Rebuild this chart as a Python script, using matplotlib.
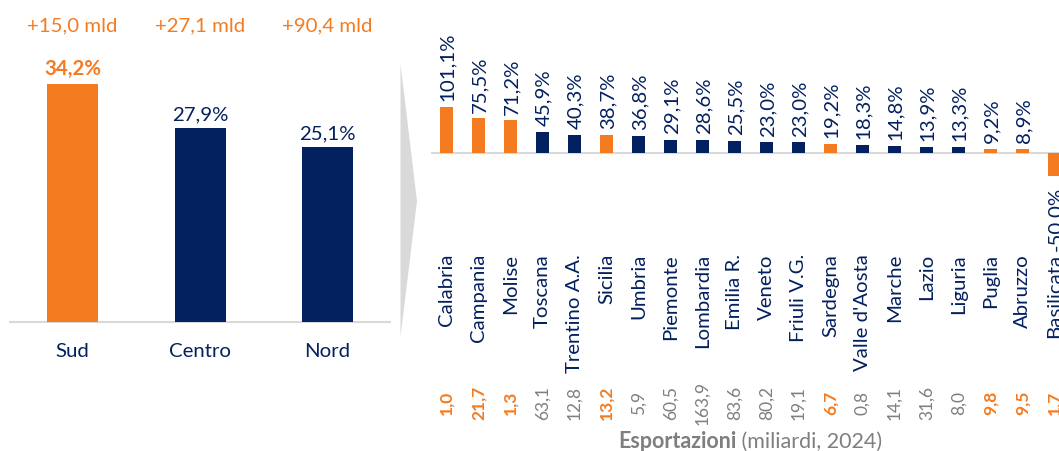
import matplotlib
matplotlib.use("Agg")
import matplotlib.pyplot as plt
from matplotlib.patches import Polygon
from matplotlib.transforms import blended_transform_factory

plt.rcParams["font.family"] = ["Lato", "DejaVu Sans"]

ORANGE = "#F47B20"
NAVY = "#03205F"
GREY = "#7F7F7F"
LINE = "#D9D9D9"

# Macro areas
areas = ["Sud", "Centro", "Nord"]
area_growth = [34.2, 27.9, 25.1]
area_delta = ["+15,0 mld", "+27,1 mld", "+90,4 mld"]
area_south = [True, False, False]

# Regions
regions = ["Calabria", "Campania", "Molise", "Toscana", "Trentino A.A.", "Sicilia",
           "Umbria", "Piemonte", "Lombardia", "Emilia R.", "Veneto", "Friuli V.G.",
           "Sardegna", "Valle d'Aosta", "Marche", "Lazio", "Liguria", "Puglia",
           "Abruzzo", "Basilicata"]
growth = [101.1, 75.5, 71.2, 45.9, 40.3, 38.7, 36.8, 29.1, 28.6, 25.5, 23.0, 23.0,
          19.2, 18.3, 14.8, 13.9, 13.3, 9.2, 8.9, -50.0]
exports = [1.0, 21.7, 1.3, 63.1, 12.8, 13.2, 5.9, 60.5, 163.9, 83.6, 80.2, 19.1,
           6.7, 0.8, 14.1, 31.6, 8.0, 9.8, 9.5, 1.7]
south = ["Calabria", "Campania", "Molise", "Sicilia", "Sardegna", "Puglia",
         "Abruzzo", "Basilicata"]

FS = 14.7
FS_EXP = 12.5


def it(v, nd=1):
    return f"{v:.{nd}f}".replace(".", ",")


W, H = 1059, 452
fig = plt.figure(figsize=(W / 100, H / 100), dpi=100)

# ---- left panel: macro areas ----
ax1 = fig.add_axes([8.75 / W, 0, 382.5 / W, 1])
base1 = 323
k1 = 6.96
ax1.set_xlim(-0.5, 2.5)
ax1.set_ylim(-(H - base1) / k1, base1 / k1)
ax1.axis("off")
x1 = range(len(areas))
ax1.bar(x1, area_growth, width=0.4,
        color=[ORANGE if s else NAVY for s in area_south], zorder=2)
ax1.axhline(0, color=LINE, lw=1.5, zorder=1)
trf1 = blended_transform_factory(ax1.transData, fig.transFigure)
for i, (a, g, d, s) in enumerate(zip(areas, area_growth, area_delta, area_south)):
    ax1.annotate(it(g) + "%", (i, g), xytext=(0, 4), textcoords="offset points",
                 ha="center", va="bottom", fontsize=FS,
                 color=ORANGE if s else NAVY, fontweight="bold" if s else "normal")
    ax1.text(i, 1 - 26 / H, d, transform=trf1, ha="center", va="center",
             fontsize=FS, color=ORANGE)
    ax1.text(i, 1 - 352 / H, a, transform=trf1, ha="center", va="center",
             fontsize=FS, color=NAVY)

# ---- connecting chevron ----
chev = Polygon([(400.5 / W, 1 - 65 / H), (417 / W, 1 - 202 / H), (400.5 / W, 1 - 338 / H)],
               closed=True, transform=fig.transFigure, facecolor=LINE, edgecolor="none")
fig.patches.append(chev)

# ---- right panel: regions ----
ax2 = fig.add_axes([430.5 / W, 0, 640 / W, 1])
base2 = 154
k2 = 0.457
ax2.set_xlim(-0.5, 19.5)
ax2.set_ylim(-(H - base2) / k2, base2 / k2)
ax2.axis("off")
x2 = range(len(regions))
ax2.bar(x2, growth, width=0.4,
        color=[ORANGE if r in south else NAVY for r in regions], zorder=2)
ax2.axhline(0, color=LINE, lw=1.5, zorder=1)
trf2 = blended_transform_factory(ax2.transData, fig.transFigure)
for i, (r, g, e) in enumerate(zip(regions, growth, exports)):
    if g >= 0:
        ax2.annotate(it(g) + "%", (i, g), xytext=(0.8, 5), textcoords="offset points",
                     rotation=90, rotation_mode="anchor", ha="left", va="center",
                     fontsize=FS, color=NAVY)
    else:
        ax2.annotate(it(g) + "%", (i, g), xytext=(0.8, -7), textcoords="offset points",
                     rotation=90, rotation_mode="anchor", ha="right", va="center",
                     fontsize=FS, color=NAVY)
    ax2.text(i, 1 - 254 / H, r, transform=trf2, rotation=90, rotation_mode="anchor",
             ha="right", va="center", fontsize=FS, color=NAVY)
    is_s = r in south
    ax2.text(i, 1 - 403 / H, it(e), transform=trf2, rotation=90,
             rotation_mode="anchor", ha="center", va="center", fontsize=FS_EXP,
             color=ORANGE if is_s else GREY, fontweight="bold" if is_s else "normal")

# axis title for the export figures
t1 = fig.text(618 / W, 1 - 442 / H, "Esportazioni", ha="left", va="center",
              fontsize=15.5, color=GREY, fontweight="bold")
fig.canvas.draw()
bb = t1.get_window_extent()
fig.text(bb.x1 / W, 1 - 442 / H, " (miliardi, 2024)", ha="left", va="center",
         fontsize=15.5, color=GREY)

fig.savefig("out.png", dpi=100, facecolor="white")
